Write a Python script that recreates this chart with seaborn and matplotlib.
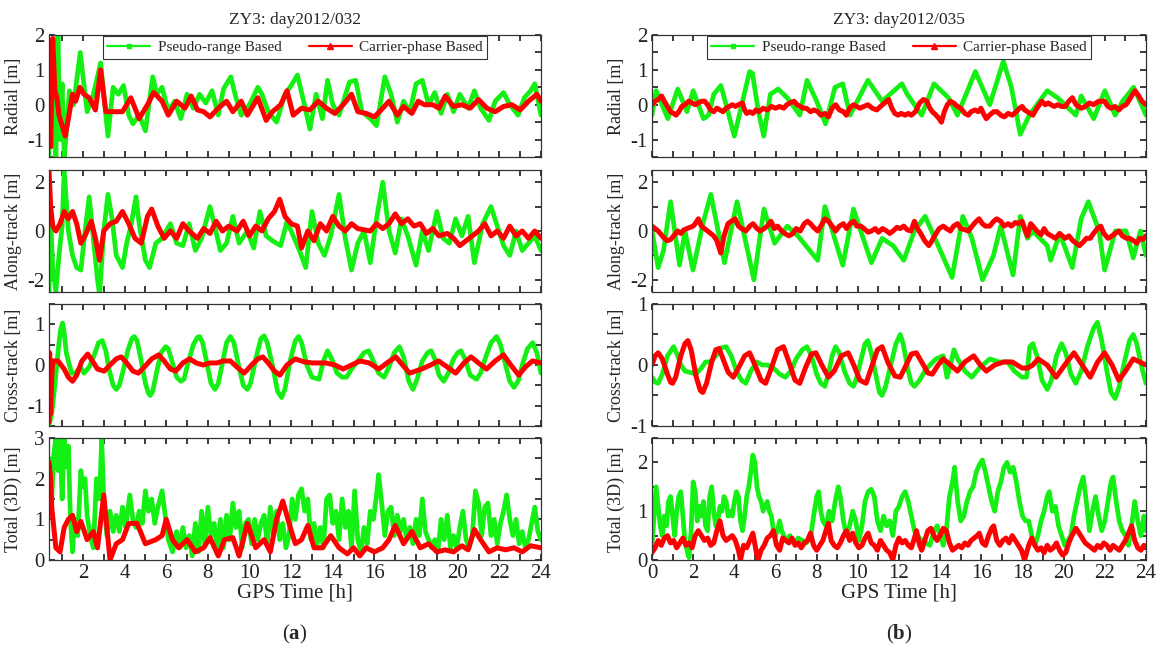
"""ZY3 orbit differences: pseudo-range vs carrier-phase based solutions."""

import matplotlib

matplotlib.use("Agg")
import matplotlib.pyplot as plt
import pandas as pd
import seaborn as sns
from matplotlib.lines import Line2D
from matplotlib.ticker import FuncFormatter, MultipleLocator

# ---- data: (GPS time [h], difference [m]) ----
# (a) day2012/032
a_rad_pr = [(0.37, -1.5), (0.45, 1.6), (0.52, -1.2), (0.6, 0.8), (0.7, -1.5), (0.8, 2.0), (0.9, -1.0),
            (1.0, 0.6), (1.1, -1.5), (1.2, -0.8), (1.35, 0.4), (1.55, 0.0), (1.87, 1.5), (2.2, -0.2),
            (2.5, 0.3), (2.85, 1.2), (3.2, -0.9), (3.45, 0.5), (3.7, 0.3), (3.95, 0.55), (4.2, -0.3),
            (4.4, -0.55), (4.7, -0.3), (5.0, -0.75), (5.35, 0.8), (5.55, 0.3), (5.8, 0.5), (6.1, -0.2),
            (6.4, 0.1), (6.7, -0.4), (7.0, 0.3), (7.3, -0.1), (7.6, 0.3), (7.9, 0.05), (8.2, 0.4),
            (8.5, -0.3), (8.75, 0.45), (9.1, 0.8), (9.35, 0.2), (9.6, -0.3), (10.0, 0.0), (10.4, 0.5),
            (10.6, 0.3), (10.9, -0.2), (11.3, -0.5), (11.7, 0.3), (12.0, 0.55), (12.3, 0.85), (12.6, 0.1),
            (12.9, -0.7), (13.2, 0.3), (13.5, -0.4), (13.75, 0.7), (14.0, 0.0), (14.3, -0.3), (14.8, 0.65),
            (15.1, 0.7), (15.4, -0.2), (15.8, -0.4), (16.1, -0.6), (16.5, 0.8), (16.8, 0.3), (17.1, -0.5),
            (17.4, 0.1), (17.7, -0.2), (18.0, 0.6), (18.3, 0.7), (18.6, 0.0), (18.9, 0.35), (19.2, -0.25),
            (19.5, 0.3), (19.8, -0.2), (20.1, 0.3), (20.5, -0.1), (20.8, 0.4), (21.1, -0.1), (21.5, -0.45),
            (21.8, 0.1), (22.2, 0.35), (22.5, 0.0), (22.9, -0.3), (23.2, 0.2), (23.5, 0.4), (23.7, 0.6),
            (24.0, -0.3)]
a_rad_cp = [(0.37, 1.6), (0.45, -1.2), (0.55, 1.9), (0.65, 0.4), (0.75, 0.2), (0.85, -0.3), (1.0, -0.6),
            (1.15, -0.9), (1.3, -0.4), (1.5, 0.3), (1.65, 0.1), (1.85, 0.5), (2.05, 0.3), (2.3, 0.2),
            (2.6, -0.15), (2.85, 1.0), (3.1, -0.2), (3.5, -0.2), (3.9, -0.2), (4.3, 0.2), (4.7, -0.4),
            (5.1, 0.0), (5.4, 0.35), (5.8, 0.1), (6.1, -0.3), (6.5, 0.1), (6.9, -0.1), (7.2, 0.25),
            (7.5, -0.15), (7.8, -0.2), (8.1, -0.35), (8.5, -0.1), (8.9, 0.1), (9.2, -0.2), (9.6, 0.1),
            (9.9, -0.3), (10.4, 0.2), (10.8, -0.45), (11.1, -0.2), (11.5, 0.0), (11.8, 0.4), (12.1, -0.3),
            (12.5, -0.1), (12.9, -0.15), (13.3, 0.1), (13.7, -0.1), (14.1, -0.25), (14.5, 0.0), (14.9, 0.3),
            (15.2, -0.2), (15.6, -0.25), (16.0, -0.35), (16.4, -0.1), (16.7, 0.1), (17.1, -0.3),
            (17.4, -0.05), (17.8, -0.25), (18.1, 0.1), (18.4, 0.0), (18.8, 0.0), (19.1, -0.1), (19.4, 0.25),
            (19.8, -0.05), (20.2, 0.0), (20.6, -0.1), (21.0, 0.15), (21.4, -0.1), (21.8, -0.2),
            (22.2, -0.05), (22.6, 0.0), (23.0, -0.15), (23.4, 0.1), (23.8, 0.3), (24.0, 0.1)]

a_along_pr = [(0.37, -2.5), (0.45, 0.5), (0.55, -1.5), (0.7, -2.5), (0.85, -1.0), (1.0, 0.2), (1.1, 2.5),
              (1.3, 0.0), (1.5, -1.0), (1.7, -1.5), (1.9, -1.6), (2.1, 0.0), (2.3, 1.4), (2.5, -0.3),
              (2.7, -2.0), (2.8, -2.6), (3.0, 0.0), (3.2, 1.5), (3.4, 0.5), (3.6, -1.0), (3.9, -1.5),
              (4.1, -0.5), (4.3, 0.2), (4.55, 1.4), (4.7, 0.3), (5.0, -1.2), (5.2, -1.5), (5.5, -0.5),
              (5.8, -0.3), (6.2, 0.3), (6.5, -0.5), (6.8, -0.6), (7.1, 0.3), (7.4, -0.8), (7.7, -0.3),
              (8.1, 1.0), (8.3, 0.3), (8.6, -0.8), (8.9, -0.5), (9.2, 0.6), (9.5, -0.5), (9.9, 0.0),
              (10.2, -0.7), (10.5, 0.8), (10.8, -0.2), (11.1, -0.4), (11.5, -0.6), (11.8, 0.4), (12.1, -0.2),
              (12.4, -0.8), (12.7, -1.5), (13.0, 0.8), (13.3, -0.5), (13.6, -1.0), (13.9, -0.2), (14.3, 1.5),
              (14.6, -0.3), (14.9, -1.6), (15.2, -0.5), (15.5, 0.0), (15.8, -1.3), (16.1, 0.5), (16.4, 2.0),
              (16.7, 0.0), (17.0, -0.9), (17.3, 0.5), (17.6, -0.2), (18.0, -1.4), (18.3, 0.0), (18.6, -0.8),
              (19.0, 0.8), (19.3, -0.3), (19.6, -0.5), (19.9, 0.5), (20.2, -0.2), (20.5, 0.6), (20.8, -1.3),
              (21.2, 0.3), (21.6, 1.0), (21.9, 0.2), (22.2, -0.6), (22.5, -1.0), (22.8, 0.0), (23.1, -0.8),
              (23.4, -0.5), (23.7, -0.2), (24.0, -0.8)]
a_along_cp = [(0.37, 2.5), (0.45, 1.0), (0.55, 0.2), (0.7, 0.0), (0.9, 0.3), (1.1, 0.8), (1.3, 0.5),
              (1.5, 0.8), (1.7, 0.3), (1.9, -0.5), (2.1, -0.2), (2.4, 0.4), (2.6, -0.3), (2.8, -1.2),
              (3.0, 0.0), (3.3, 0.3), (3.6, 0.4), (3.9, 0.8), (4.2, 0.3), (4.5, -0.3), (4.8, -0.5),
              (5.1, 0.6), (5.3, 0.9), (5.6, 0.2), (5.9, -0.3), (6.2, 0.0), (6.5, -0.3), (6.8, 0.3),
              (7.1, 0.0), (7.5, -0.3), (7.8, 0.1), (8.1, -0.1), (8.4, 0.4), (8.7, 0.0), (9.0, 0.2),
              (9.4, 0.0), (9.7, 0.4), (10.0, -0.2), (10.3, 0.2), (10.6, 0.0), (10.9, 0.5), (11.2, 0.8),
              (11.45, 1.3), (11.7, 0.6), (12.0, 0.3), (12.3, 0.2), (12.5, -0.7), (12.8, 0.0), (13.1, -0.4),
              (13.4, 0.3), (13.7, 0.0), (14.0, 0.6), (14.3, 0.2), (14.6, 0.0), (14.9, 0.3), (15.2, 0.1),
              (15.5, 0.05), (15.8, 0.0), (16.1, 0.3), (16.4, 0.1), (16.7, 0.3), (17.0, 0.7), (17.3, 0.3),
              (17.6, 0.5), (17.9, 0.2), (18.2, 0.3), (18.5, -0.1), (18.8, 0.1), (19.1, -0.2), (19.5, -0.1),
              (19.8, -0.3), (20.1, -0.6), (20.4, -0.4), (20.7, -0.2), (21.0, 0.0), (21.3, 0.3), (21.6, -0.2),
              (21.9, 0.0), (22.2, -0.3), (22.5, 0.2), (22.8, -0.2), (23.1, 0.0), (23.4, -0.3), (23.7, 0.0),
              (24.0, -0.3)]

a_cross_pr = [(0.37, -1.5), (0.5, -1.2), (0.65, -0.5), (0.8, 0.3), (0.92, 0.85), (1.02, 1.03), (1.1, 0.8),
              (1.2, 0.3), (1.3, 0.1), (1.45, -0.2), (1.65, -0.2), (1.87, -0.05), (2.05, -0.2), (2.3, -0.05),
              (2.55, 0.25), (2.75, 0.55), (2.93, 0.6), (3.1, 0.35), (3.25, -0.1), (3.45, -0.5), (3.6, -0.6),
              (3.75, -0.5), (3.95, -0.1), (4.15, 0.35), (4.35, 0.65), (4.46, 0.7), (4.6, 0.6), (4.8, 0.1),
              (5.0, -0.45), (5.15, -0.7), (5.23, -0.75), (5.35, -0.65), (5.55, -0.15), (5.75, 0.3),
              (5.97, 0.45), (6.1, 0.4), (6.3, 0.05), (6.5, -0.3), (6.7, -0.4), (6.85, -0.35), (7.05, 0.05),
              (7.3, 0.5), (7.5, 0.68), (7.6, 0.7), (7.75, 0.55), (7.95, 0.05), (8.15, -0.45), (8.34, -0.6),
              (8.5, -0.45), (8.7, 0.05), (8.9, 0.55), (9.08, 0.7), (9.25, 0.55), (9.45, 0.05), (9.7, -0.5),
              (9.9, -0.6), (10.05, -0.45), (10.3, 0.15), (10.55, 0.65), (10.7, 0.72), (10.85, 0.55),
              (11.1, 0.0), (11.35, -0.65), (11.54, -0.8), (11.7, -0.6), (11.95, 0.1), (12.2, 0.6),
              (12.36, 0.7), (12.5, 0.55), (12.75, 0.0), (13.0, -0.3), (13.34, -0.35), (13.55, 0.1),
              (13.75, 0.35), (13.95, 0.15), (14.2, -0.2), (14.45, -0.3), (14.66, -0.3), (14.9, -0.1),
              (15.2, 0.1), (15.5, 0.3), (15.72, 0.35), (15.9, 0.15), (16.2, -0.2), (16.46, -0.3),
              (16.7, -0.05), (16.95, 0.3), (17.2, 0.45), (17.4, 0.2), (17.65, -0.4), (17.85, -0.6),
              (18.05, -0.35), (18.3, 0.1), (18.55, 0.3), (18.72, 0.35), (18.9, 0.15), (19.1, -0.25),
              (19.33, -0.4), (19.55, -0.2), (19.8, 0.15), (20.0, 0.3), (20.15, 0.35), (20.35, 0.15),
              (20.6, -0.25), (20.9, -0.35), (21.1, -0.2), (21.35, 0.2), (21.6, 0.55), (21.87, 0.7),
              (22.05, 0.5), (22.3, 0.0), (22.5, -0.4), (22.7, -0.55), (22.9, -0.4), (23.1, 0.0), (23.35, 0.4),
              (23.6, 0.55), (23.8, 0.3), (24.0, -0.2)]
a_cross_cp = [(0.37, -1.4), (0.4, 0.3), (0.45, -1.2), (0.5, -0.3), (0.55, 0.1), (0.8, 0.1), (1.1, -0.1),
              (1.3, -0.3), (1.5, -0.4), (1.7, -0.25), (1.95, 0.1), (2.23, 0.27), (2.45, 0.1), (2.7, -0.1),
              (3.02, -0.15), (3.3, 0.0), (3.6, 0.15), (3.84, 0.2), (4.1, 0.05), (4.4, -0.15), (4.66, -0.2),
              (4.95, -0.05), (5.3, 0.15), (5.64, 0.25), (5.9, 0.1), (6.2, -0.1), (6.46, -0.15), (6.8, 0.05),
              (7.11, 0.15), (7.45, 0.05), (7.77, 0.0), (8.1, 0.05), (8.43, 0.05), (8.75, 0.1), (9.08, 0.1),
              (9.4, -0.05), (9.74, -0.2), (10.1, 0.0), (10.4, 0.15), (10.64, 0.2), (10.9, 0.05),
              (11.2, -0.15), (11.46, -0.25), (11.8, 0.0), (12.2, 0.15), (12.6, 0.08), (13.02, 0.05),
              (13.35, 0.05), (13.67, 0.05), (14.1, 0.0), (14.49, -0.1), (14.9, 0.0), (15.31, 0.1),
              (15.75, 0.05), (16.21, -0.1), (16.6, 0.05), (17.03, 0.2), (17.35, 0.0), (17.69, -0.2),
              (18.26, -0.1), (18.7, 0.0), (19.08, 0.1), (19.5, -0.05), (19.9, -0.2), (20.3, 0.05),
              (20.64, 0.2), (21.0, 0.05), (21.38, -0.1), (21.8, 0.1), (22.2, 0.25), (22.55, 0.0),
              (22.93, -0.25), (23.25, -0.05), (23.59, 0.1), (24.0, 0.05)]

a_total_pr = [(0.37, 2.5), (0.5, 1.5), (0.6, 2.6), (0.7, 3.0), (0.8, 2.2), (0.9, 3.0), (1.0, 1.5), (1.1, 3.0),
              (1.2, 2.3), (1.3, 2.8), (1.4, 1.0), (1.5, 0.2), (1.6, 1.0), (1.75, 0.6), (1.9, 2.2), (2.0, 1.8),
              (2.1, 2.0), (2.2, 1.1), (2.35, 0.6), (2.5, 0.3), (2.65, 2.0), (2.8, 1.5), (2.9, 3.0), (3.0, 1.5),
              (3.15, 0.6), (3.3, 1.2), (3.45, 0.7), (3.6, 1.1), (3.75, 0.7), (3.9, 1.3), (4.05, 0.8),
              (4.25, 1.6), (4.4, 1.0), (4.55, 0.8), (4.7, 1.2), (4.85, 0.9), (5.0, 1.7), (5.15, 1.2),
              (5.3, 1.5), (5.45, 0.9), (5.6, 1.3), (5.8, 1.7), (5.95, 1.1), (6.1, 0.5), (6.3, 0.2), (6.5, 0.7),
              (6.65, 0.3), (6.8, 0.8), (6.95, 0.3), (7.1, 0.6), (7.25, 0.1), (7.4, 0.9), (7.55, 0.2),
              (7.7, 1.2), (7.85, 0.4), (8.0, 1.3), (8.15, 0.6), (8.3, 0.9), (8.45, 0.2), (8.6, 1.0),
              (8.75, 0.3), (8.9, 1.1), (9.05, 0.5), (9.2, 1.4), (9.35, 0.8), (9.5, 1.2), (9.65, 0.3),
              (9.8, 0.9), (9.95, 1.0), (10.1, 0.4), (10.25, 1.0), (10.4, 0.5), (10.55, 0.9), (10.7, 1.1),
              (10.85, 0.4), (11.0, 1.3), (11.15, 0.6), (11.3, 1.2), (11.45, 0.5), (11.6, 0.9), (11.75, 0.3),
              (11.9, 0.6), (12.05, 1.5), (12.2, 1.0), (12.35, 1.6), (12.5, 1.75), (12.65, 1.2), (12.8, 1.5),
              (12.95, 0.5), (13.1, 0.9), (13.25, 0.4), (13.4, 0.8), (13.55, 0.3), (13.7, 1.5), (13.85, 1.6),
              (14.0, 0.9), (14.15, 1.2), (14.3, 0.5), (14.45, 1.5), (14.6, 0.8), (14.75, 1.2), (14.9, 0.3),
              (15.05, 1.7), (15.2, 0.5), (15.35, 0.2), (15.5, 0.8), (15.65, 0.4), (15.8, 1.2), (15.95, 1.0),
              (16.1, 1.6), (16.2, 2.1), (16.35, 1.4), (16.5, 0.6), (16.65, 1.2), (16.8, 1.3), (16.95, 0.6),
              (17.1, 1.1), (17.25, 0.7), (17.4, 1.0), (17.55, 0.5), (17.7, 0.8), (17.85, 0.4), (18.0, 1.0),
              (18.15, 0.6), (18.3, 1.5), (18.45, 0.7), (18.6, 0.5), (18.75, 0.3), (18.9, 0.5), (19.05, 0.2),
              (19.2, 1.0), (19.35, 0.5), (19.5, 1.1), (19.65, 0.3), (19.8, 0.6), (19.95, 0.3), (20.1, 0.8),
              (20.25, 1.2), (20.4, 0.5), (20.55, 0.3), (20.7, 0.6), (20.85, 1.7), (21.0, 1.4), (21.15, 0.6),
              (21.3, 1.3), (21.45, 1.4), (21.6, 0.6), (21.75, 1.0), (21.9, 0.4), (22.05, 0.9), (22.2, 1.2),
              (22.35, 1.6), (22.5, 1.0), (22.65, 0.6), (22.8, 1.0), (22.95, 0.4), (23.1, 0.7), (23.25, 0.3),
              (23.4, 0.5), (23.55, 0.9), (23.7, 1.3), (23.85, 0.7), (24.0, 0.5)]
a_total_cp = [(0.37, 2.4), (0.45, 2.0), (0.5, 1.3), (0.7, 0.3), (0.9, 0.2), (1.1, 0.8), (1.3, 1.0),
              (1.5, 1.1), (1.7, 0.7), (1.9, 0.95), (2.2, 0.5), (2.5, 0.7), (2.7, 0.3), (3.0, 1.6), (3.3, 0.0),
              (3.6, 0.4), (3.9, 0.5), (4.2, 0.9), (4.6, 0.9), (5.0, 0.4), (5.5, 0.5), (5.8, 0.6), (6.0, 1.0),
              (6.3, 0.5), (6.6, 0.3), (7.0, 0.5), (7.4, 0.2), (7.8, 0.3), (8.1, 0.55), (8.5, 0.1), (8.8, 0.5),
              (9.2, 0.55), (9.5, 0.1), (9.9, 0.9), (10.3, 0.3), (10.7, 0.5), (11.0, 0.2), (11.3, 1.0),
              (11.6, 1.45), (11.9, 0.9), (12.2, 0.4), (12.5, 0.5), (12.8, 0.85), (13.1, 0.3), (13.5, 0.3),
              (13.9, 0.6), (14.3, 0.3), (14.7, 0.15), (15.0, 0.3), (15.3, 0.1), (15.6, 0.3), (16.0, 0.2),
              (16.4, 0.3), (16.7, 0.5), (17.0, 0.85), (17.4, 0.4), (17.8, 0.7), (18.2, 0.3), (18.6, 0.4),
              (19.0, 0.2), (19.4, 0.25), (19.8, 0.2), (20.2, 0.35), (20.5, 0.25), (20.8, 0.75), (21.1, 0.5),
              (21.5, 0.2), (21.9, 0.3), (22.3, 0.25), (22.7, 0.3), (23.1, 0.2), (23.5, 0.35), (24.0, 0.3)]

# (b) day2012/035
b_rad_pr = [(0.0, -0.3), (0.2, 0.4), (0.77, -0.4), (1.25, 0.45), (1.7, -0.2), (2.0, 0.4), (2.5, -0.4),
            (2.75, -0.3), (3.0, 0.3), (3.35, 0.55), (3.6, 0.0), (4.0, -0.9), (4.74, 0.95), (4.88, 0.9),
            (5.17, -0.2), (5.43, -0.9), (5.75, 0.3), (6.13, 0.45), (6.57, 0.2), (7.18, -0.3), (7.53, 0.7),
            (8.0, 0.1), (8.43, -0.55), (8.89, 0.5), (9.27, 0.6), (9.62, -0.3), (10.49, 0.7), (11.18, 0.1),
            (12.14, 0.6), (12.4, 0.3), (13.1, -0.3), (13.7, 0.6), (14.4, 0.2), (14.84, -0.3), (15.71, 0.95),
            (16.41, 0.0), (17.07, 1.25), (17.46, 0.5), (17.89, -0.85), (18.33, -0.3), (19.2, 0.4),
            (19.7, 0.2), (20.59, -0.3), (20.85, 0.25), (21.46, -0.4), (22.0, 0.4), (22.5, -0.3),
            (22.86, 0.1), (23.4, 0.5), (24.0, -0.3)]
b_rad_cp = [(0.0, 0.0), (0.15, 0.1), (0.3, 0.15), (0.47, 0.25), (0.6, 0.1), (0.75, -0.05), (0.9, -0.2),
            (1.05, -0.25), (1.17, -0.3), (1.3, -0.2), (1.45, -0.05), (1.6, 0.0), (1.78, 0.1), (1.95, 0.05),
            (2.1, 0.0), (2.25, 0.05), (2.4, 0.1), (2.56, 0.1), (2.7, 0.0), (2.85, -0.15), (3.0, -0.2),
            (3.15, -0.1), (3.3, -0.15), (3.45, -0.2), (3.6, -0.1), (3.75, -0.05), (3.9, 0.0), (4.05, -0.05),
            (4.2, 0.0), (4.39, 0.05), (4.5, -0.15), (4.6, -0.25), (4.75, -0.2), (4.9, -0.25), (5.05, -0.15),
            (5.2, -0.2), (5.4, -0.1), (5.6, -0.15), (5.8, -0.05), (6.0, -0.1), (6.2, -0.05), (6.4, -0.1),
            (6.55, 0.0), (6.7, 0.05), (6.9, 0.1), (7.05, 0.0), (7.2, -0.05), (7.35, -0.1), (7.5, -0.1),
            (7.7, -0.2), (7.87, -0.15), (8.05, -0.2), (8.2, -0.3), (8.4, -0.25), (8.57, -0.35), (8.75, -0.1),
            (8.92, 0.0), (9.1, -0.15), (9.3, -0.2), (9.44, -0.3), (9.6, -0.1), (9.79, 0.0), (9.95, -0.05),
            (10.1, -0.1), (10.3, -0.05), (10.49, 0.0), (10.7, -0.1), (10.92, -0.15), (11.1, -0.05),
            (11.3, 0.05), (11.5, 0.15), (11.65, -0.1), (11.8, -0.25), (11.95, -0.3), (12.1, -0.25),
            (12.3, -0.3), (12.45, -0.25), (12.6, -0.3), (12.8, -0.2), (13.0, 0.05), (13.19, 0.15),
            (13.35, 0.1), (13.5, -0.1), (13.62, -0.2), (13.8, -0.3), (13.95, -0.4), (14.06, -0.5),
            (14.2, -0.2), (14.35, 0.0), (14.5, 0.1), (14.65, 0.05), (14.84, -0.05), (15.0, -0.1),
            (15.2, -0.25), (15.37, -0.3), (15.5, -0.2), (15.7, -0.15), (15.85, -0.2), (15.98, -0.1),
            (16.1, -0.25), (16.24, -0.4), (16.4, -0.3), (16.6, -0.2), (16.76, -0.2), (16.95, -0.3),
            (17.11, -0.35), (17.3, -0.25), (17.5, -0.3), (17.7, -0.2), (17.85, -0.1), (17.98, -0.05),
            (18.1, -0.15), (18.24, -0.2), (18.5, -0.3), (18.7, -0.1), (18.94, 0.1), (19.1, 0.0),
            (19.25, 0.05), (19.38, 0.0), (19.55, -0.05), (19.7, 0.0), (19.9, -0.05), (20.07, -0.05),
            (20.25, 0.1), (20.42, 0.2), (20.6, 0.0), (20.85, -0.1), (21.05, -0.05), (21.25, 0.05),
            (21.45, 0.0), (21.7, 0.1), (21.98, 0.1), (22.15, -0.05), (22.3, -0.1), (22.5, -0.05),
            (22.68, -0.15), (22.85, -0.05), (23.03, 0.0), (23.2, 0.15), (23.35, 0.3), (23.47, 0.4),
            (23.65, 0.25), (23.8, 0.1), (24.0, 0.0)]

b_along_pr = [(0.0, 0.0), (0.3, -1.5), (0.56, -0.8), (0.9, 1.2), (1.34, -1.4), (1.6, 0.0), (1.99, -1.6),
              (2.47, 0.3), (2.86, 1.5), (3.52, -1.3), (4.13, 1.2), (4.95, -2.0), (5.44, 0.9), (5.96, -0.5),
              (6.57, 0.2), (7.09, -0.2), (8.05, -1.2), (8.4, 1.0), (9.27, -1.4), (9.79, 0.9), (10.14, 0.0),
              (10.66, -1.3), (11.18, -0.3), (11.71, -0.6), (12.23, -1.2), (12.75, 0.0), (13.27, 0.6),
              (13.8, -0.4), (14.58, -1.9), (15.1, 0.6), (15.54, -0.3), (16.06, -2.0), (16.59, -1.0),
              (16.94, 0.2), (17.54, -1.8), (17.89, 0.6), (18.24, -0.3), (18.5, 0.0), (19.2, -0.6),
              (19.37, -1.2), (19.81, -0.1), (20.42, -1.5), (20.85, 0.5), (21.2, 1.2), (21.72, 0.0),
              (21.99, -1.6), (22.51, 0.0), (23.03, 0.0), (23.38, -1.1), (23.73, 0.0), (24.0, -1.0)]
b_along_cp = [(0.0, 0.2), (0.15, 0.1), (0.3, 0.0), (0.45, -0.15), (0.6, -0.3), (0.73, -0.4), (0.9, -0.35),
              (1.05, -0.2), (1.25, 0.0), (1.4, -0.1), (1.55, 0.05), (1.7, 0.1), (1.85, 0.15), (2.0, 0.2),
              (2.1, 0.3), (2.25, 0.5), (2.4, 0.2), (2.55, 0.1), (2.7, 0.0), (2.85, -0.1), (3.0, -0.2),
              (3.15, -0.4), (3.34, -0.9), (3.5, -0.2), (3.69, 0.3), (3.85, 0.4), (4.04, 0.5), (4.2, 0.2),
              (4.35, 0.1), (4.56, 0.0), (4.75, 0.2), (4.91, 0.3), (5.1, 0.1), (5.26, 0.0), (5.45, 0.1),
              (5.6, 0.2), (5.78, 0.4), (5.95, 0.1), (6.1, 0.2), (6.3, 0.0), (6.45, -0.1), (6.65, -0.2),
              (6.85, -0.1), (7.0, 0.1), (7.2, 0.0), (7.4, 0.3), (7.55, 0.4), (7.7, 0.3), (7.85, 0.15),
              (8.05, 0.0), (8.2, 0.2), (8.4, 0.5), (8.57, 0.4), (8.75, 0.2), (8.92, 0.0), (9.1, 0.2),
              (9.3, 0.3), (9.45, 0.1), (9.62, 0.3), (9.8, 0.4), (9.95, 0.2), (10.14, 0.2), (10.3, 0.1),
              (10.5, -0.05), (10.66, 0.0), (10.85, 0.1), (11.0, -0.05), (11.2, 0.1), (11.4, 0.0),
              (11.55, -0.1), (11.71, 0.0), (11.9, 0.15), (12.05, 0.1), (12.23, 0.2), (12.4, 0.05),
              (12.58, 0.0), (12.75, 0.4), (12.9, 0.1), (13.05, -0.1), (13.25, -0.4), (13.45, -0.6),
              (13.6, -0.4), (13.8, -0.1), (13.95, 0.1), (14.15, 0.2), (14.3, 0.1), (14.5, 0.0), (14.65, 0.2),
              (14.84, 0.3), (15.0, 0.1), (15.2, 0.05), (15.37, 0.0), (15.55, 0.2), (15.7, 0.35), (15.89, 0.5),
              (16.05, 0.3), (16.2, 0.2), (16.41, 0.2), (16.6, 0.4), (16.75, 0.5), (16.94, 0.4), (17.1, 0.2),
              (17.3, 0.3), (17.46, 0.2), (17.65, 0.35), (17.8, 0.3), (17.98, 0.4), (18.1, 0.1),
              (18.24, -0.2), (18.4, 0.3), (18.5, 0.2), (18.7, 0.0), (18.9, -0.15), (19.05, 0.1),
              (19.2, -0.1), (19.4, -0.2), (19.6, -0.3), (19.8, -0.1), (20.07, -0.3), (20.25, -0.2),
              (20.45, -0.4), (20.6, -0.5), (20.77, -0.6), (20.95, -0.45), (21.1, -0.3), (21.29, -0.3),
              (21.45, -0.1), (21.64, 0.1), (21.8, 0.2), (21.95, -0.1), (22.16, -0.3), (22.35, -0.2),
              (22.5, -0.1), (22.68, 0.0), (22.85, -0.2), (23.05, -0.3), (23.2, -0.3), (23.4, -0.4),
              (23.55, -0.5), (23.7, -0.3), (23.85, -0.35), (24.0, -0.2)]

b_cross_pr = [(0.0, -0.2), (0.15, -0.28), (0.3, -0.3), (0.5, -0.15), (0.75, 0.15), (1.05, 0.3), (1.25, 0.15),
              (1.4, 0.0), (1.6, -0.1), (1.85, -0.12), (2.13, -0.15), (2.4, -0.05), (2.6, 0.05), (2.82, 0.05),
              (3.1, 0.15), (3.35, 0.28), (3.6, 0.3), (3.85, 0.15), (4.1, -0.1), (4.35, -0.25), (4.56, -0.3),
              (4.8, -0.1), (5.09, 0.05), (5.35, 0.0), (5.61, 0.0), (5.9, -0.05), (6.2, -0.15), (6.48, -0.2),
              (6.75, -0.1), (7.0, 0.1), (7.3, 0.25), (7.53, 0.3), (7.75, 0.15), (8.0, -0.15), (8.2, -0.3),
              (8.4, -0.35), (8.6, -0.1), (8.75, 0.15), (8.92, 0.3), (9.1, 0.2), (9.35, -0.1), (9.6, -0.3),
              (9.79, -0.35), (9.95, -0.2), (10.2, 0.15), (10.35, 0.35), (10.49, 0.4), (10.65, 0.2),
              (10.9, -0.2), (11.05, -0.45), (11.18, -0.5), (11.35, -0.35), (11.6, 0.0), (11.85, 0.35),
              (12.06, 0.5), (12.2, 0.35), (12.45, -0.1), (12.6, -0.3), (12.75, -0.35), (13.0, -0.25),
              (13.25, -0.1), (13.5, 0.0), (13.8, 0.1), (14.15, 0.15), (14.33, -0.2), (14.5, 0.0),
              (14.67, 0.25), (14.85, 0.1), (15.2, -0.1), (15.54, -0.2), (15.9, -0.05), (16.41, 0.1),
              (16.85, 0.05), (17.28, 0.05), (17.6, -0.1), (17.98, -0.2), (18.2, -0.2), (18.35, 0.3),
              (18.5, 0.35), (18.7, 0.15), (18.95, -0.25), (19.2, -0.4), (19.4, -0.25), (19.65, 0.15),
              (19.9, 0.35), (20.1, 0.2), (20.35, -0.15), (20.59, -0.3), (20.85, -0.1), (21.15, 0.3),
              (21.45, 0.6), (21.64, 0.7), (21.85, 0.4), (22.1, -0.1), (22.3, -0.45), (22.5, -0.55),
              (22.7, -0.35), (22.95, 0.05), (23.2, 0.4), (23.38, 0.5), (23.55, 0.35), (23.8, -0.05),
              (24.0, -0.3)]
b_cross_cp = [(0.0, 0.0), (0.15, 0.15), (0.3, 0.2), (0.5, 0.1), (0.75, -0.15), (0.9, -0.28), (1.0, -0.3),
              (1.15, -0.2), (1.4, 0.15), (1.6, 0.35), (1.74, 0.4), (1.9, 0.25), (2.15, -0.2), (2.35, -0.42),
              (2.47, -0.45), (2.65, -0.3), (2.9, 0.05), (3.1, 0.25), (3.26, 0.27), (3.45, 0.1), (3.7, -0.12),
              (3.95, -0.2), (4.2, -0.05), (4.5, 0.15), (4.74, 0.2), (5.0, 0.0), (5.3, -0.25), (5.52, -0.3),
              (5.8, -0.05), (6.1, 0.25), (6.39, 0.3), (6.65, 0.05), (6.95, -0.25), (7.18, -0.3),
              (7.45, -0.05), (7.75, 0.18), (7.96, 0.2), (8.25, 0.0), (8.57, -0.2), (8.85, -0.1), (9.2, 0.15),
              (9.53, 0.2), (9.8, 0.0), (10.1, -0.25), (10.4, -0.3), (10.65, -0.05), (10.95, 0.25),
              (11.18, 0.3), (11.45, 0.05), (11.8, -0.18), (12.06, -0.2), (12.35, 0.0), (12.6, 0.18),
              (12.84, 0.2), (13.1, 0.05), (13.4, -0.13), (13.62, -0.15), (13.9, 0.0), (14.15, 0.1),
              (14.5, 0.0), (14.84, -0.1), (15.2, 0.05), (15.63, 0.15), (15.95, 0.0), (16.24, -0.1),
              (16.65, 0.0), (17.11, 0.05), (17.5, 0.05), (17.98, -0.05), (18.25, -0.05), (18.5, 0.0),
              (18.76, 0.1), (19.2, 0.0), (19.63, -0.2), (20.05, 0.0), (20.5, 0.2), (20.9, 0.0),
              (21.29, -0.2), (21.65, 0.05), (21.99, 0.2), (22.35, 0.0), (22.68, -0.25), (23.0, -0.1),
              (23.38, 0.1), (24.0, 0.0)]

b_total_pr = [(0.0, 0.3), (0.1, 0.9), (0.2, 1.5), (0.3, 1.1), (0.4, 0.7), (0.5, 0.5), (0.6, 0.9), (0.7, 0.7),
              (0.8, 1.2), (0.9, 1.3), (1.0, 0.9), (1.1, 0.5), (1.2, 1.0), (1.3, 1.3), (1.4, 1.4), (1.5, 0.9),
              (1.6, 0.4), (1.7, 0.2), (1.8, 0.05), (1.9, 0.6), (2.0, 1.6), (2.1, 1.4), (2.2, 0.8), (2.3, 1.1),
              (2.4, 0.9), (2.5, 1.2), (2.6, 0.7), (2.7, 0.6), (2.8, 1.3), (2.9, 1.5), (3.0, 1.0), (3.1, 0.7),
              (3.2, 0.8), (3.3, 1.1), (3.4, 1.0), (3.5, 1.3), (3.6, 1.2), (3.7, 0.9), (3.8, 1.0), (3.9, 0.9),
              (4.0, 1.2), (4.1, 1.4), (4.2, 1.3), (4.3, 0.8), (4.4, 0.6), (4.5, 0.9), (4.6, 1.3), (4.7, 1.5),
              (4.8, 1.8), (4.9, 2.15), (5.0, 2.0), (5.1, 1.5), (5.2, 1.3), (5.3, 1.2), (5.4, 1.0), (5.5, 1.1),
              (5.6, 1.2), (5.7, 1.0), (5.8, 0.9), (5.9, 0.6), (6.0, 0.5), (6.1, 0.6), (6.2, 0.8), (6.3, 0.6),
              (6.5, 0.4), (6.7, 0.5), (6.9, 0.35), (7.1, 0.45), (7.3, 0.4), (7.5, 0.35), (7.7, 0.45),
              (7.85, 0.9), (8.0, 1.3), (8.1, 1.4), (8.2, 1.0), (8.3, 0.8), (8.45, 0.7), (8.6, 1.0), (8.75, 0.8),
              (8.9, 1.2), (9.05, 1.5), (9.15, 1.3), (9.3, 0.8), (9.45, 0.5), (9.6, 0.7), (9.75, 1.0),
              (9.9, 0.8), (10.05, 0.4), (10.2, 0.7), (10.35, 1.2), (10.5, 1.4), (10.65, 1.45), (10.8, 1.3),
              (10.95, 0.8), (11.1, 0.6), (11.25, 0.9), (11.4, 0.7), (11.55, 0.8), (11.7, 0.5), (11.85, 1.0),
              (12.0, 1.1), (12.15, 1.3), (12.3, 1.4), (12.45, 1.2), (12.6, 0.9), (12.75, 0.6), (12.9, 0.5),
              (13.1, 0.4), (13.3, 0.35), (13.5, 0.3), (13.7, 0.6), (13.85, 0.7), (14.0, 0.5), (14.15, 0.3),
              (14.3, 0.6), (14.45, 1.3), (14.6, 1.6), (14.7, 1.9), (14.85, 1.2), (15.0, 0.8), (15.15, 0.9),
              (15.3, 1.2), (15.45, 1.4), (15.6, 1.5), (15.75, 1.8), (15.9, 1.95), (16.05, 2.05), (16.2, 1.8),
              (16.35, 1.5), (16.5, 1.2), (16.65, 1.0), (16.8, 1.4), (16.95, 1.6), (17.1, 1.9), (17.25, 2.0),
              (17.4, 1.8), (17.55, 1.9), (17.7, 1.6), (17.85, 1.2), (18.0, 0.9), (18.15, 0.8), (18.3, 0.8),
              (18.45, 0.5), (18.6, 0.3), (18.75, 0.5), (18.9, 0.8), (19.05, 1.0), (19.2, 1.3), (19.3, 1.4),
              (19.45, 1.0), (19.6, 1.1), (19.75, 0.7), (19.9, 0.5), (20.05, 0.3), (20.2, 0.4), (20.35, 0.5),
              (20.5, 0.9), (20.65, 1.2), (20.8, 1.5), (20.95, 1.7), (21.1, 1.2), (21.25, 0.6), (21.4, 1.0),
              (21.55, 1.3), (21.7, 0.9), (21.85, 0.6), (22.0, 0.8), (22.15, 1.2), (22.3, 1.6), (22.4, 1.7),
              (22.55, 1.2), (22.7, 0.8), (22.85, 0.6), (23.0, 0.5), (23.15, 0.3), (23.3, 0.7), (23.45, 1.2),
              (23.6, 0.8), (23.75, 0.5), (23.9, 0.9), (24.0, 0.6)]
b_total_cp = [(0.0, 0.15), (0.15, 0.25), (0.3, 0.4), (0.45, 0.3), (0.6, 0.45), (0.75, 0.5), (0.9, 0.35),
              (1.05, 0.4), (1.2, 0.25), (1.35, 0.35), (1.5, 0.45), (1.65, 0.3), (1.8, 0.35), (1.95, 0.25),
              (2.1, 0.5), (2.25, 0.6), (2.4, 0.5), (2.55, 0.4), (2.7, 0.45), (2.85, 0.3), (3.0, 0.35),
              (3.15, 0.6), (3.3, 0.8), (3.45, 0.5), (3.6, 0.4), (3.75, 0.45), (3.9, 0.5), (4.05, 0.4),
              (4.2, 0.2), (4.3, 0.0), (4.45, 0.3), (4.6, 0.25), (4.75, 0.4), (4.9, 0.55), (5.05, 0.2),
              (5.15, 0.0), (5.3, 0.2), (5.45, 0.3), (5.6, 0.45), (5.75, 0.5), (5.9, 0.6), (6.05, 0.3),
              (6.2, 0.2), (6.35, 0.45), (6.5, 0.4), (6.65, 0.35), (6.8, 0.45), (6.95, 0.3), (7.1, 0.35),
              (7.25, 0.25), (7.4, 0.35), (7.55, 0.4), (7.7, 0.55), (7.85, 0.3), (8.0, 0.2), (8.15, 0.3),
              (8.3, 0.4), (8.45, 0.6), (8.57, 0.75), (8.7, 0.4), (8.85, 0.3), (9.0, 0.25), (9.15, 0.35),
              (9.3, 0.5), (9.45, 0.6), (9.6, 0.4), (9.75, 0.55), (9.9, 0.35), (10.05, 0.25), (10.2, 0.3),
              (10.35, 0.45), (10.5, 0.55), (10.65, 0.35), (10.8, 0.3), (10.95, 0.2), (11.1, 0.4),
              (11.25, 0.3), (11.4, 0.2), (11.55, 0.15), (11.7, 0.0), (11.85, 0.3), (12.0, 0.45),
              (12.15, 0.35), (12.3, 0.4), (12.45, 0.3), (12.6, 0.25), (12.75, 0.45), (12.85, 0.6),
              (13.0, 0.3), (13.1, 0.2), (13.25, 0.4), (13.4, 0.6), (13.55, 0.65), (13.7, 0.5), (13.85, 0.4),
              (14.0, 0.5), (14.15, 0.65), (14.3, 0.6), (14.45, 0.35), (14.6, 0.2), (14.75, 0.25), (14.9, 0.3),
              (15.05, 0.25), (15.2, 0.35), (15.35, 0.3), (15.5, 0.4), (15.65, 0.45), (15.8, 0.5),
              (15.9, 0.55), (16.05, 0.35), (16.2, 0.3), (16.35, 0.5), (16.5, 0.65), (16.6, 0.7),
              (16.75, 0.4), (16.9, 0.3), (17.05, 0.4), (17.2, 0.45), (17.35, 0.35), (17.5, 0.5),
              (17.65, 0.4), (17.8, 0.3), (17.95, 0.2), (18.1, 0.0), (18.3, 0.3), (18.45, 0.45), (18.6, 0.3),
              (18.75, 0.2), (18.9, 0.25), (19.05, 0.15), (19.2, 0.3), (19.35, 0.2), (19.5, 0.25),
              (19.65, 0.35), (19.8, 0.2), (19.95, 0.1), (20.1, 0.15), (20.25, 0.35), (20.4, 0.5), (20.6, 0.65),
              (20.75, 0.55), (20.9, 0.45), (21.05, 0.35), (21.2, 0.3), (21.35, 0.25), (21.5, 0.2),
              (21.65, 0.3), (21.8, 0.25), (21.95, 0.35), (22.1, 0.3), (22.25, 0.2), (22.4, 0.3), (22.55, 0.25),
              (22.7, 0.2), (22.85, 0.3), (23.0, 0.4), (23.15, 0.55), (23.3, 0.7), (23.45, 0.4), (23.6, 0.25),
              (23.75, 0.2), (23.9, 0.3), (24.0, 0.25)]

PANEL_LABELS = ["a", "b"]
TITLES = ["ZY3: day2012/032", "ZY3: day2012/035"]
YLABELS = ["Radial [m]", "Along-track [m]", "Cross-track [m]", "Total (3D) [m]"]
SERIES_NAMES = ["Pseudo-range Based", "Carrier-phase Based"]

columns = [
    [(a_rad_pr, a_rad_cp), (a_along_pr, a_along_cp), (a_cross_pr, a_cross_cp), (a_total_pr, a_total_cp)],
    [(b_rad_pr, b_rad_cp), (b_along_pr, b_along_cp), (b_cross_pr, b_cross_cp), (b_total_pr, b_total_cp)],
]

# axis limits / tick spacing per panel: (ylim, tick step, label step)
Y_SETUP = [
    [((-1.5, 2), 0.5, 1), ((-2.5, 2.5), 1, 2), ((-1.5, 1.5), 0.5, 1), ((0, 3), 0.5, 1)],
    [((-1.5, 2), 0.5, 1), ((-2.5, 2.5), 1, 2), ((-1, 1), 0.5, 1), ((0, 2.5), 0.5, 1)],
]
XLIMS = [(0.37, 24), (0, 24)]

GREEN = "#14F014"
RED = "#FF0000"

sns.set_theme(style="ticks")
plt.rcParams.update({
    "font.family": ["Liberation Serif", "DejaVu Serif"],
    "mathtext.fontset": "custom",
    "mathtext.rm": "Liberation Serif",
    "mathtext.bf": "Liberation Serif:bold",
    "axes.edgecolor": "#333333",
    "axes.linewidth": 0.9,
    "xtick.direction": "in",
    "ytick.direction": "in",
    "xtick.top": True,
    "ytick.right": True,
    "xtick.major.size": 4,
    "ytick.major.size": 4,
    "xtick.color": "#222222",
    "ytick.color": "#222222",
})


def label_every(step):
    """Only label ticks that are multiples of `step`."""
    def fmt(val, pos):
        q = val / step
        return f"{val:g}" if abs(q - round(q)) < 1e-6 else ""
    return FuncFormatter(fmt)


fig = plt.figure(figsize=(11.61, 6.5), dpi=100)

col_x = [49 / 1161, 652 / 1161]
col_w = [492 / 1161, 494 / 1161]
row_top_px = [35, 170, 304, 438]
row_h_px = 122

for c in range(2):
    for r in range(4):
        bottom = 1 - (row_top_px[r] + row_h_px) / 650
        ax = fig.add_axes([col_x[c], bottom, col_w[c], row_h_px / 650])
        pr, cp = columns[c][r]
        pr_df = pd.DataFrame(pr, columns=["t", "d"])
        cp_df = pd.DataFrame(cp, columns=["t", "d"])
        sns.lineplot(data=pr_df, x="t", y="d", ax=ax, color=GREEN, linewidth=3.4,
                     sort=False, estimator=None)
        sns.lineplot(data=cp_df, x="t", y="d", ax=ax, color=RED, linewidth=3.6,
                     sort=False, estimator=None)

        ylim, step, lab = Y_SETUP[c][r]
        ax.set_xlim(*XLIMS[c])
        ax.set_ylim(*ylim)
        ax.yaxis.set_major_locator(MultipleLocator(step))
        ax.yaxis.set_major_formatter(label_every(lab))
        ax.xaxis.set_major_locator(MultipleLocator(1))
        ax.xaxis.set_major_formatter(label_every(2))
        ax.tick_params(labelsize=15, pad=3)
        for s in ax.spines.values():
            s.set_visible(True)

        ax.set_ylabel(YLABELS[r], fontsize=13)
        ax.yaxis.set_label_coords(-0.055, 0.5)
        if r < 3:
            ax.set_xlabel("")
            ax.tick_params(labelbottom=False)
        else:
            ax.set_xlabel("GPS Time [h]", fontsize=15, labelpad=0)

        if r == 0:
            ax.set_title(TITLES[c], fontsize=12.5, pad=8)
            handles = [
                Line2D([], [], color=GREEN, lw=1.6, marker="s", ms=3.5),
                Line2D([], [], color=RED, lw=1.6, marker="^", ms=4),
            ]
            leg = ax.legend(handles, SERIES_NAMES, loc="upper center", ncol=2, fontsize=11,
                            frameon=True, fancybox=False, edgecolor="#333333", framealpha=1,
                            borderpad=0.3, borderaxespad=0.05, handlelength=2.8,
                            handletextpad=0.5, columnspacing=1.8)
            leg.get_frame().set_linewidth(0.8)

    fig.text(col_x[c] + col_w[c] / 2, 1 - 634 / 650,
             "(" + r"$\mathbf{" + PANEL_LABELS[c] + "}$" + ")",
             ha="center", va="center", fontsize=15)

fig.savefig("out.png", dpi=100)
